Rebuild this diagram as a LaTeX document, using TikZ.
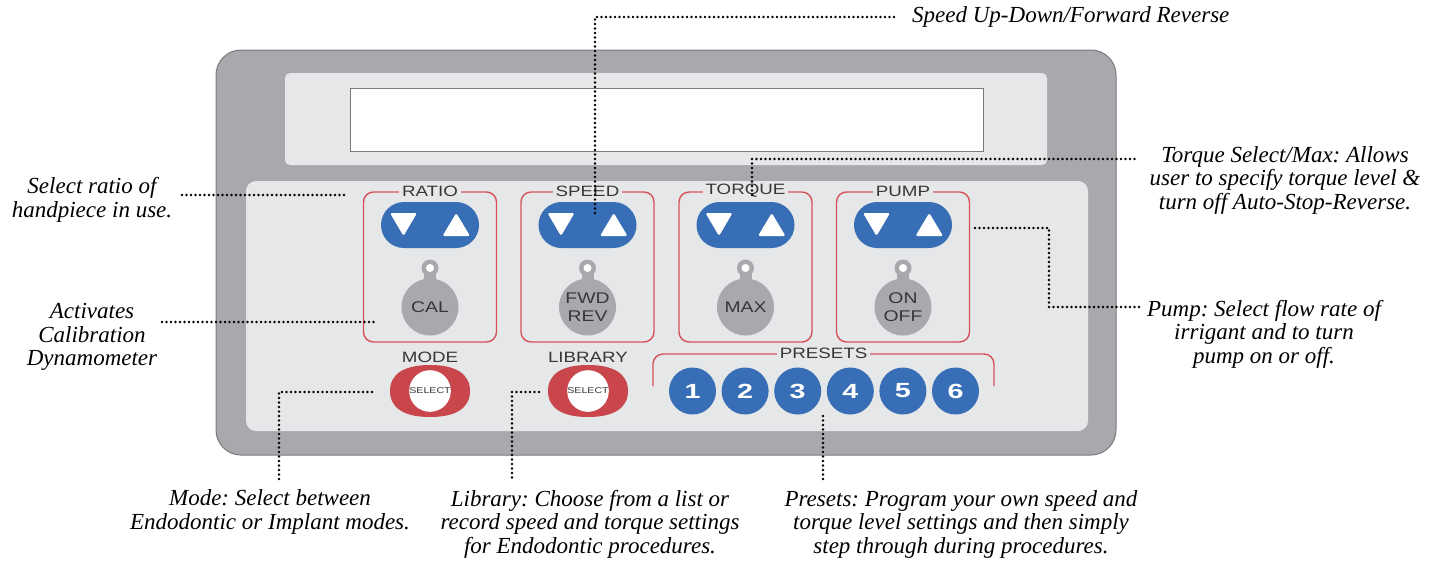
\documentclass[tikz,border=0pt]{standalone}
\usepackage{fontspec}
\setmainfont{Liberation Serif}
\newfontfamily\lblfont[FakeStretch=1.25]{Liberation Sans}
\newfontfamily\numfont[FakeStretch=1.4]{Liberation Sans}
\usetikzlibrary{shapes.misc,shapes.geometric}
\definecolor{panelgray}{RGB}{167,169,172}
\definecolor{panelline}{RGB}{120,122,125}
\definecolor{lightp}{RGB}{230,231,232}
\definecolor{btnblue}{RGB}{55,110,181}
\definecolor{grpred}{RGB}{214,82,88}
\definecolor{selred}{RGB}{200,70,76}
\definecolor{btngray}{RGB}{167,169,172}
\definecolor{lbltext}{RGB}{55,55,55}
\tikzset{
  callout/.style={font=\frenchspacing\itshape\fontsize{23}{23.5}\selectfont, align=center, inner sep=0pt, text=black},
  dots/.style={line width=2.6pt, dash pattern=on 0pt off 4.5pt, line cap=round, black},
  grpbox/.style={draw=grpred, line width=1.4pt, rounded corners=10pt},
  grptitle/.style={fill=lightp, inner sep=3pt, font=\lblfont\fontsize{15}{15}\selectfont, text=lbltext},
  pill/.style={rounded rectangle, fill=btnblue, minimum width=98pt, minimum height=46pt, inner sep=0pt},
  graybtn/.style={circle, fill=btngray, minimum size=57pt, inner sep=0pt, align=center, font=\lblfont\fontsize{15.5}{18.5}\selectfont, text=lbltext},
  selbtn/.style={rectangle, minimum width=80pt, minimum height=52pt, inner sep=0pt},
  selin/.style={circle, fill=white, minimum size=40pt, inner sep=0pt, font=\lblfont\fontsize{8.5}{9}\selectfont, text=lbltext},
  preset/.style={circle, fill=btnblue, minimum size=47pt, inner sep=0pt, font=\numfont\bfseries\fontsize{20.5}{20.5}\selectfont, text=white},
  seclabel/.style={inner sep=0pt, font=\lblfont\fontsize{15}{15}\selectfont, text=lbltext}
}
\begin{document}
\begin{tikzpicture}[x=1pt,y=-1pt]
\useasboundingbox (0,0) rectangle (1439,563);
% panels
\draw[fill=panelgray, draw=panelline, line width=1pt, rounded corners=25pt] (216,50) rectangle (1116,455);
\fill[lightp, rounded corners=5pt] (285,73) rectangle (1047,165);
\draw[fill=white, draw=panelline, line width=1pt] (350,88) rectangle (983,151);
\fill[lightp, rounded corners=10pt] (246,181) rectangle (1088,431);
% groups
\foreach \x/\t/\b/\n in {430/RATIO/CAL/ratio, 587.5/SPEED/{FWD\\REV}/speed, 745.5/TORQUE/MAX/torque, 903/PUMP/{ON\\OFF}/pump}{
  \draw[grpbox] (\x-66.5,192) rectangle (\x+66.5,342);
  \node[grptitle] (\n title) at (\x,191) {\t};
  \node[pill] (\n pill) at (\x,225) {};
  \fill[white, rounded corners=1.5pt] (\x-40,213) -- (\x-13,213) -- (\x-26.5,236) -- cycle;
  \fill[white, rounded corners=1.5pt] (\x+12.5,236) -- (\x+40,236) -- (\x+26.25,213) -- cycle;
  \fill[btngray] (\x,268) circle (8.5pt);
  \fill[btngray] (\x-6,268) rectangle (\x+6,285);
  \fill[white] (\x,268) circle (4pt);
  \node[graybtn] (\n btn) at (\x,307) {\b};
}
% mode / library select buttons (rounded oval shape)
\foreach \x/\n in {430/mode, 588/lib}{
  \fill[selred] (\x+40,391) .. controls (\x+40,374) and (\x+26,365) .. (\x,365)
    .. controls (\x-26,365) and (\x-40,374) .. (\x-40,391)
    .. controls (\x-40,408) and (\x-26,417) .. (\x,417)
    .. controls (\x+26,417) and (\x+40,408) .. (\x+40,391) -- cycle;
  \node[selbtn] (\n) at (\x,391) {};
  \node[selin] (\n in) at (\x,391) {SELECT};
}
\node[seclabel] (modelbl) at (430,357) {MODE};
\node[seclabel] (liblbl) at (588,357) {LIBRARY};
% presets
\draw[grpbox] (653,386) -- (653,354) -- (994,354) -- (994,386);
\node[grptitle] (prestitle) at (823.5,353) {PRESETS};
\foreach \i in {1,...,6}{
  \node[preset] (p\i) at ({692.5+52.6*(\i-1)},391) {\i};
}
% callouts
\node[callout, anchor=west] (speedtxt) at (912,17) {Speed Up-Down/Forward Reverse};
\node[callout] (torquetxt) at (1285,180) {Torque Select/Max: Allows\\user to specify torque level \&\\turn off Auto-Stop-Reverse.};
\node[callout] (pumptxt) at (1264,334) {Pump: Select flow rate of\\irrigant and to turn\\pump on or off.};
\node[callout] (ratiotxt) at (92,200) {Select ratio of\\handpiece in use.};
\node[callout] (activtxt) at (92,337) {Activates\\Calibration\\Dynamometer};
\node[callout] (modetxt) at (270,512) {Mode: Select between\\Endodontic or Implant modes.};
\node[callout] (libtxt) at (590,524) {Library: Choose from a list or\\record speed and torque settings\\for Endodontic procedures.};
\node[callout] (prestxt) at (961,524) {Presets: Program your own speed and\\torque level settings and then simply\\step through during procedures.};
% connector ends
\coordinate (s0) at (595,213);
\coordinate (s1) at (897,17);
\coordinate (t0) at (752,195);
\coordinate (t1) at (1138,159);
\coordinate (u0) at (975,228);
\coordinate (u1) at (1049,307);
\coordinate (u2) at (1140,307);
\coordinate (r0) at (182,195);
\coordinate (r1) at (347,195);
\coordinate (a0) at (162,322);
\coordinate (a1) at (375,322);
\coordinate (m0) at (372,392);
\coordinate (m1) at (279,480);
\coordinate (l0) at (539,392);
\coordinate (l1) at (512,480);
\coordinate (q0) at (823,416);
\coordinate (q1) at (823,480);
\draw[dots] (s0) |- (s1);
\draw[dots] (t0) |- (t1);
\draw[dots] (u0) -| (u1) -- (u2);
\draw[dots] (r0) -- (r1);
\draw[dots] (a0) -- (a1);
\draw[dots] (m0) -| (m1);
\draw[dots] (l0) -| (l1);
\draw[dots] (q0) -- (q1);
\end{tikzpicture}
\end{document}
